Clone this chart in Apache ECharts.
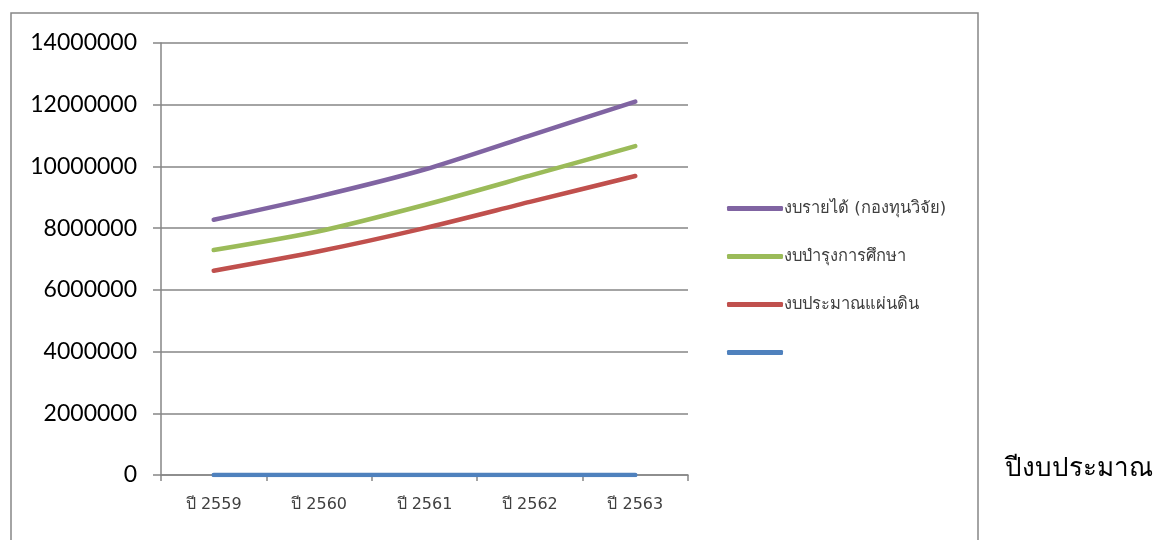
<!DOCTYPE html>
<html><head><meta charset="utf-8">
<script src="https://cdn.jsdelivr.net/npm/echarts@6/dist/echarts.min.js"></script>
<style>html,body{margin:0;padding:0;background:#fff}#c{width:1157px;height:540px}</style>
</head><body><div id="c"></div>
<script>
var categories = ['ปี 2559','ปี 2560','ปี 2561','ปี 2562','ปี 2563'];
var revenue = [8270000, 9030000, 9900000, 11000000, 12100000];
var maintenance = [7290000, 7900000, 8750000, 9700000, 10660000];
var government = [6620000, 7250000, 8000000, 8850000, 9690000];
var blank = [0, 0, 0, 0, 0];
var seriesNames = ['งบรายได้ (กองทุนวิจัย)', 'งบบำรุงการศึกษา', 'งบประมาณแผ่นดิน', ' '];
var yTicks = {min: 0, max: 14000000, interval: 2000000};
var axisTitle = 'ปีงบประมาณ';

var colors = ['#8064A2', '#9BBB59', '#C0504D', '#4F81BD'];
var datas = [revenue, maintenance, government, blank];
var chart = echarts.init(document.getElementById('c'));
chart.setOption({
  animation: false,
  grid: {left: 161, right: 469, top: 43, bottom: 65},
  legend: {
    orient: 'vertical', left: 722, top: 195,
    itemWidth: 56, itemHeight: 5, itemGap: 31, icon: 'roundRect',
    data: seriesNames,
    textStyle: {fontSize: 16.5, color: '#404040', padding: [0,0,0,-4], fontFamily: 'DejaVu Sans, sans-serif'}
  },
  xAxis: {
    type: 'category', data: categories, boundaryGap: true,
    axisLine: {lineStyle: {color: '#868686', width: 1.5}},
    axisTick: {show: true, length: 6, lineStyle: {color: '#868686', width: 1.5}},
    axisLabel: {fontSize: 16, color: '#404040', margin: 22, fontFamily: 'DejaVu Sans, sans-serif'}
  },
  yAxis: {
    type: 'value', min: yTicks.min, max: yTicks.max, interval: yTicks.interval,
    axisLine: {show: true, lineStyle: {color: '#868686', width: 1.5}},
    axisTick: {show: true, length: 8, lineStyle: {color: '#868686', width: 1.5}},
    splitLine: {lineStyle: {color: '#868686', width: 1.5}},
    axisLabel: {fontSize: 23, color: '#000', margin: 24, fontFamily: 'Lato, sans-serif',
      formatter: function(v){ return String(v); }}
  },
  series: datas.map(function(d, i){
    return {
      name: seriesNames[i], type: 'line', data: d, smooth: 0.25, symbol: 'none',
      lineStyle: {color: colors[i], width: 4.5, cap: 'round'},
      itemStyle: {color: colors[i]},
      z: 10 - i
    };
  }),
  graphic: [
    {type: 'rect', shape: {x: 11, y: 13, width: 967, height: 540}, style: {fill: 'none', stroke: '#868686', lineWidth: 1.5}, silent: true},
    {type: 'text', left: 1005, top: 456, style: {text: axisTitle, fontSize: 26, fill: '#000', fontFamily: 'DejaVu Serif, serif'}}
  ]
});
</script></body></html>
